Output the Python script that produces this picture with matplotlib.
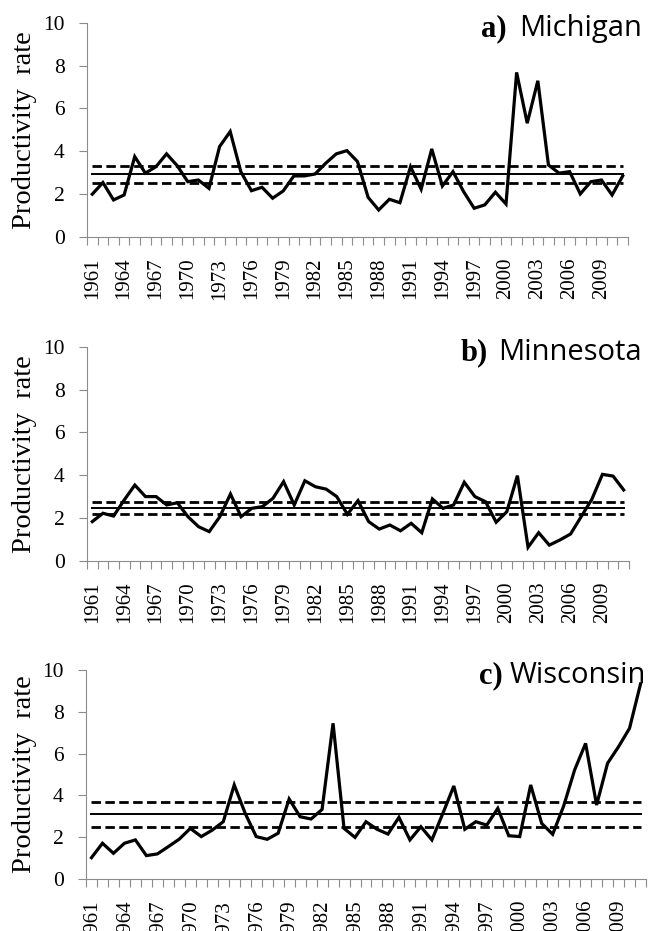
import numpy as np
import matplotlib
matplotlib.use("Agg")
import matplotlib.pyplot as plt

# Data (productivity rate per year)
years = list(range(1961, 2012))

michigan = [2.0, 2.54, 1.73, 1.96, 3.75, 2.98, 3.28, 3.88, 3.33, 2.58,
            2.66, 2.27, 4.22, 4.92, 3.05, 2.16, 2.32, 1.81, 2.15, 2.85,
            2.85, 2.94, 3.44, 3.88, 4.03, 3.52, 1.85, 1.26, 1.76, 1.6,
            3.28, 2.23, 4.11, 2.38, 3.05, 2.12, 1.34, 1.5, 2.09, 1.54,
            7.68, 5.31, 7.29, 3.36, 2.98, 3.05, 2.01, 2.58, 2.66, 1.96, 2.85]
minnesota = [1.83, 2.22, 2.09, 2.84, 3.54, 3.0, 3.0, 2.61, 2.71, 2.06,
             1.59, 1.36, 2.06, 3.12, 2.06, 2.45, 2.53, 2.92, 3.7, 2.61,
             3.74, 3.46, 3.35, 3.0, 2.17, 2.81, 1.83, 1.48, 1.67, 1.4,
             1.75, 1.31, 2.89, 2.45, 2.61, 3.67, 3.0, 2.76, 1.8, 2.29,
             3.98, 0.63, 1.31, 0.73, 0.97, 1.25, 2.06, 2.87, 4.04, 3.96, 3.31]
wisconsin = [1.02, 1.71, 1.23, 1.71, 1.87, 1.12, 1.2, 1.55, 1.91, 2.42,
             2.03, 2.34, 2.74, 4.5, 3.14, 2.03, 1.9, 2.19, 3.83, 2.98,
             2.87, 3.33, 7.45, 2.42, 1.99, 2.74, 2.38, 2.15, 2.95, 1.87,
             2.5, 1.87, 3.14, 4.45, 2.38, 2.74, 2.58, 3.38, 2.07, 2.03,
             4.5, 2.66, 2.14, 3.49, 5.22, 6.49, 3.54, 5.54, 6.33, 7.21, 9.33]

letters = ["a)", "b)", "c)"]
states = ["Michigan", "Minnesota", "Wisconsin"]
series = [michigan, minnesota, wisconsin]
means = [2.94, 2.45, 3.09]
upper = [3.33, 2.73, 3.67]
lower = [2.54, 2.19, 2.47]

W, H = 660, 931
fig = plt.figure(figsize=(W / 100, H / 100), dpi=100)

# axes boxes in pixels: left, top, right, bottom
boxes = [(87, 22.7, 628, 237), (87, 347, 629, 560.7), (86, 670, 646, 879)]
# title positions in pixels: letter right edge, name right edge, baseline
title_pos = [(507, 642, 36), (488, 642, 360), (503, 646, 683)]

serif = "Liberation Serif"
grey = "#8c8c8c"

for i in range(3):
    l, t, r, b = boxes[i]
    ax = fig.add_axes([l / W, 1 - b / H, (r - l) / W, (b - t) / H])
    x = np.arange(len(years))
    ax.plot(x, series[i], color="black", lw=2.3, solid_joinstyle="miter")
    ax.plot([x[0], x[-1]], [means[i]] * 2, color="black", lw=1.4)
    ax.plot([x[0], x[-1]], [upper[i]] * 2, color="black", lw=2, dashes=(3.4, 1.6))
    ax.plot([x[0], x[-1]], [lower[i]] * 2, color="black", lw=2, dashes=(3.4, 1.6))

    ax.set_xlim(-0.5, len(years) - 0.5)
    ax.set_ylim(0, 10)
    ax.set_yticks(range(0, 11, 2))
    ax.set_yticklabels([str(v) for v in range(0, 11, 2)], fontfamily=serif, fontsize=15.5)

    # tick marks between categories, labels every third year
    ax.set_xticks(np.arange(-0.5, len(years), 1.0))
    ax.set_xticklabels([])
    ax.set_xticks(x[::3], minor=True)
    ax.set_xticklabels([str(y) for y in years[::3]], minor=True, rotation=90,
                       fontfamily=serif, fontsize=15)
    ax.tick_params(axis="x", which="major", length=6, width=0.8, color=grey)
    ax.tick_params(axis="x", which="minor", length=0, pad=15)
    ax.tick_params(axis="y", length=6, width=0.8, color=grey, pad=10)

    for s in ["top", "right"]:
        ax.spines[s].set_visible(False)
    for s in ["left", "bottom"]:
        ax.spines[s].set_color(grey)
        ax.spines[s].set_linewidth(0.8)

    ax.set_ylabel("Productivity  rate", fontfamily=serif, fontsize=20.5)
    ax.yaxis.set_label_coords((37 - l) / (r - l), 0.5)

    lx, nx, by = title_pos[i]
    fig.text(lx / W, 1 - by / H, letters[i], ha="right", va="baseline",
             fontfamily=serif, fontweight="bold", fontsize=22)
    fig.text(nx / W, 1 - by / H, states[i], ha="right", va="baseline",
             fontfamily="Open Sans", fontsize=21)

plt.savefig("out.png", dpi=100)
